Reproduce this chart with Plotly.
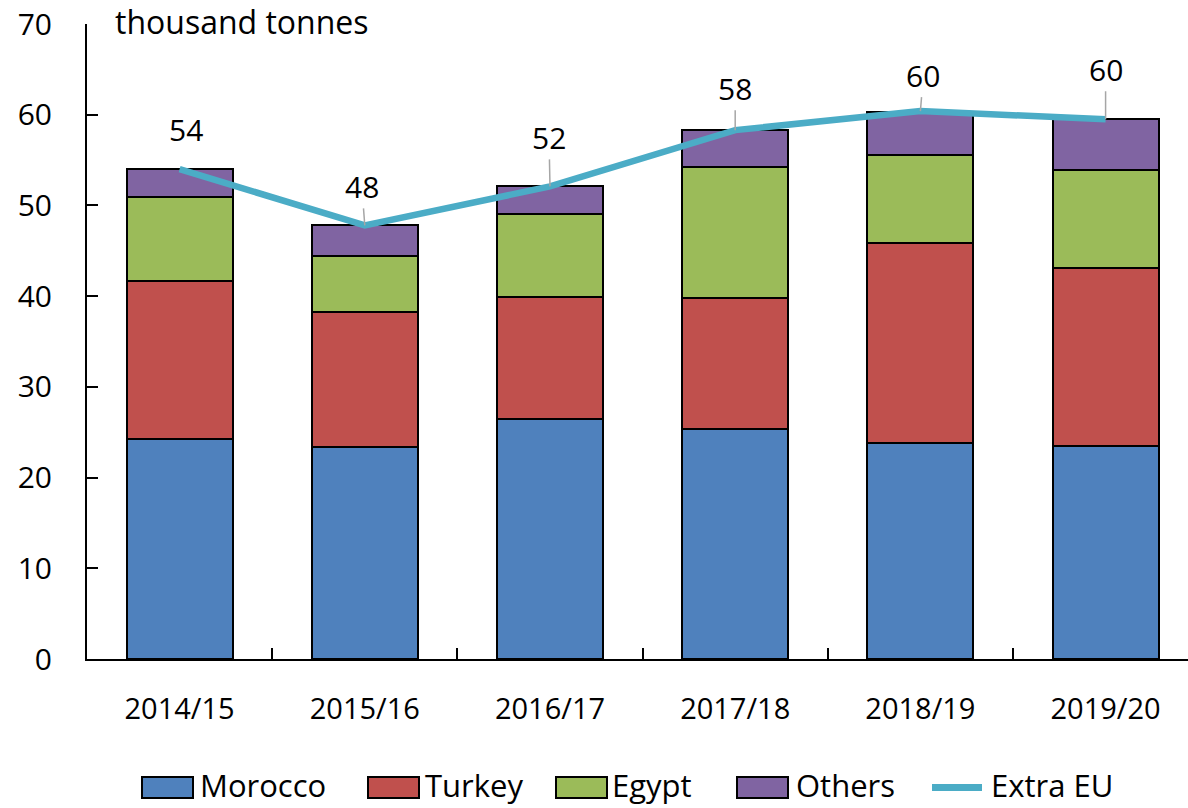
import plotly.graph_objects as go

# ---- data ----
years = ["2014/15", "2015/16", "2016/17", "2017/18", "2018/19", "2019/20"]
morocco = [24.2, 23.4, 26.5, 25.4, 23.8, 23.5]
turkey = [17.5, 14.9, 13.4, 14.4, 22.1, 19.6]
egypt = [9.2, 6.1, 9.2, 14.4, 9.7, 10.8]
others = [3.1, 3.4, 3.0, 4.1, 4.7, 5.6]
extra_eu = [54.0, 47.8, 52.1, 58.3, 60.4, 59.5]
y_ticks = [0, 10, 20, 30, 40, 50, 60, 70]
unit_label = "thousand tonnes"

# ---- style ----
series_names = ["Morocco", "Turkey", "Egypt", "Others"]
series_vals = [morocco, turkey, egypt, others]
series_colors = ["#4F81BD", "#C0504D", "#9BBB59", "#8064A2"]
line_name = "Extra EU"
line_color = "#4BACC6"
FONT = "Open Sans"
W, H = 1188, 808
ML, MR, MT, MB = 87, 0, 24, 149
PW, PH = W - ML - MR, H - MT - MB

# data label offsets (pixels) and whether a leader line is shown
label_offsets = [(6, -40), (-3, -39), (-1, -49), (0, -42), (3, -36), (0, -50)]
label_leader = [False, True, True, True, True, True]

fig = go.Figure()
for name, vals, col in zip(series_names, series_vals, series_colors):
    fig.add_trace(go.Bar(
        x=years, y=vals, name=name, marker_color=col,
        marker_line=dict(color="black", width=2), showlegend=False,
    ))

fig.add_trace(go.Scatter(
    x=years, y=extra_eu, name=line_name, mode="lines",
    line=dict(color=line_color, width=6.5), showlegend=False,
))

def px_x(p):
    return (p - ML) / PW

def px_y(p):
    return 1 - (p - MT) / PH

annotations = []
for yr, v, (ax, ay), lead in zip(years, extra_eu, label_offsets, label_leader):
    annotations.append(dict(
        x=yr, y=v, xref="x", yref="y", text=f"{v:.0f}",
        showarrow=True, ax=ax, ay=ay, axref="pixel", ayref="pixel",
        arrowhead=0, arrowwidth=1.5, standoff=0,
        arrowcolor="#A6A6A6" if lead else "rgba(0,0,0,0)",
        font=dict(family=FONT, size=30, color="black"),
    ))

annotations.append(dict(
    x=px_x(113), y=px_y(21), xref="paper", yref="paper", text=unit_label,
    showarrow=False, xanchor="left", yanchor="middle",
    font=dict(family=FONT, size=32, color="black"),
))

# manual legend (large swatches like the original)
shapes = []
leg_y0, leg_y1 = 777, 798
leg_cy = 785
box_x = [142, 368, 556, 737]
text_x = [198, 423, 610, 794]
for name, col, bx, tx in zip(series_names, series_colors, box_x, text_x):
    shapes.append(dict(
        type="rect", xref="paper", yref="paper",
        x0=px_x(bx), x1=px_x(bx + 51), y0=px_y(leg_y1), y1=px_y(leg_y0),
        fillcolor=col, line=dict(color="black", width=2),
    ))
    annotations.append(dict(
        x=px_x(tx), y=px_y(leg_cy), xref="paper", yref="paper", text=name,
        showarrow=False, xanchor="left", yanchor="middle",
        font=dict(family=FONT, size=31, color="black"),
    ))
shapes.append(dict(
    type="line", xref="paper", yref="paper",
    x0=px_x(932), x1=px_x(982), y0=px_y((leg_y0 + leg_y1) / 2), y1=px_y((leg_y0 + leg_y1) / 2),
    line=dict(color=line_color, width=7),
))
annotations.append(dict(
    x=px_x(989), y=px_y(leg_cy), xref="paper", yref="paper", text=line_name,
    showarrow=False, xanchor="left", yanchor="middle",
    font=dict(family=FONT, size=31, color="black"),
))

fig.update_layout(
    barmode="stack", bargap=0.428,
    width=W, height=H, autosize=False,
    margin=dict(l=ML, r=MR, t=MT, b=MB, pad=0),
    plot_bgcolor="white", paper_bgcolor="white",
    font=dict(family=FONT, size=30, color="black"),
    annotations=annotations, shapes=shapes, showlegend=False,
)
fig.update_xaxes(
    type="category", range=[-0.5, 5.445],
    showline=True, linecolor="black", linewidth=2,
    ticks="inside", tickson="boundaries", ticklen=11, tickwidth=1.5, tickcolor="black",
    tickfont=dict(family=FONT, size=29), ticklabelstandoff=23,
    showgrid=False, zeroline=False,
)
fig.update_yaxes(
    range=[0, 70], tickvals=y_ticks,
    showline=True, linecolor="black", linewidth=2,
    ticks="inside", ticklen=11, tickwidth=2, tickcolor="black",
    tickfont=dict(family=FONT, size=30), ticklabelstandoff=27,
    showgrid=False, zeroline=False,
)

fig.write_html(
    "out.html",
    config={"displayModeBar": False},
    post_script="document.body.style.margin='0';document.body.style.overflow='hidden';",
)
